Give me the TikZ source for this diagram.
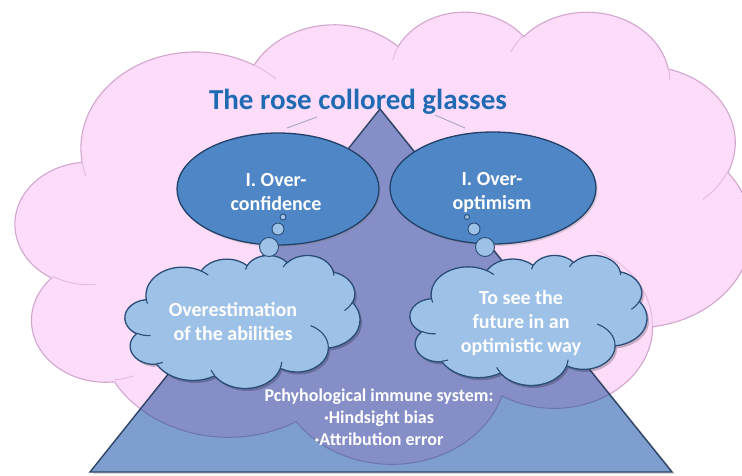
\documentclass[tikz,border=0pt]{standalone}
\usepackage{fontspec}
\setmainfont{Carlito}
\usetikzlibrary{shapes.geometric,shadows}

\definecolor{pinkfill}{HTML}{FCDCF8}
\definecolor{pinkedge}{HTML}{D3A6CF}
\definecolor{pinkwrinkle}{HTML}{E4B8DF}
\definecolor{trifill}{HTML}{7E9ECF}
\definecolor{triover}{HTML}{858EC7}
\definecolor{triedge}{HTML}{2E4466}
\definecolor{overedge}{HTML}{6C75B0}
\definecolor{ovalfill}{HTML}{4E86C6}
\definecolor{ovaledge}{HTML}{22416A}
\definecolor{puff}{HTML}{9EC1E7}
\definecolor{puffedge}{HTML}{2B4E78}
\definecolor{titleblue}{HTML}{1F6BB3}
\definecolor{leader}{HTML}{9EA3BE}

% Cloud outline made of eleven elliptic arcs inside a 100 x 100 box (y down).
% Each arc is given by its radii and by start/sweep angles seen from its centre;
% they are turned into the parametric angles that TikZ's arc expects.
\makeatletter
\def\cloudoutline{(9.028,33.264)}
\def\cloudwrinkles{}
\newcommand\cloudarcspec[4]{%
  \pgfmathsetmacro\cl@ta{atan2((#1)*sin(#3),(#2)*cos(#3))}%
  \pgfmathsetmacro\cl@tb{atan2((#1)*sin((#3)+(#4)),(#2)*cos((#3)+(#4)))}%
  \pgfmathsetmacro\cl@dt{\cl@tb-\cl@ta}%
  \pgfmathsetmacro\cl@dt{\cl@dt<0 ? \cl@dt+360 : \cl@dt}%
}
\newcommand\addcloudarc[4]{%
  \cloudarcspec{#1}{#2}{#3}{#4}%
  \xdef\cloudoutline{\cloudoutline\space arc[start angle=\cl@ta,delta angle=\cl@dt,x radius=#1,y radius=#2]}%
}
\newcommand\addcloudwrinkle[6]{%
  \cloudarcspec{#3}{#4}{#5}{#6}%
  \xdef\cloudwrinkles{\cloudwrinkles\space (#1,#2) arc[start angle=\cl@ta,delta angle=\cl@dt,x radius=#3,y radius=#4]}%
}
\makeatother

\addcloudarc{15.632}{21.273}{-190.4875}{123.7805}
\addcloudarc{12.345}{16.822}{-144.1024}{89.9452}
\addcloudarc{10.104}{13.762}{-145.8079}{99.7230}
\addcloudarc{11.243}{15.266}{-130.9861}{117.2417}
\addcloudarc{12.345}{16.836}{-78.7089}{109.0269}
\addcloudarc{15.683}{21.343}{-46.2673}{130.2690}
\addcloudarc{13.391}{18.211}{0.6250}{114.0333}
\addcloudarc{15.630}{21.331}{22.4516}{115.1726}
\addcloudarc{17.870}{24.405}{66.2426}{75.7110}
\addcloudarc{10.093}{13.699}{-274.9421}{146.7356}
\addcloudarc{10.058}{13.762}{-246.8285}{152.5189}

\addcloudwrinkle{10.863}{60.595}{10.058}{13.762}{86.742}{26.430}
\addcloudwrinkle{16.037}{80.785}{10.093}{13.699}{73.610}{11.447}
\addcloudwrinkle{38.144}{90.486}{15.630}{21.331}{137.624}{14.081}
\addcloudwrinkle{66.729}{80.442}{15.630}{21.331}{6.453}{15.998}
\addcloudwrinkle{79.002}{53.134}{13.391}{18.211}{-70.292}{70.917}
\addcloudwrinkle{96.755}{35.542}{12.345}{16.836}{30.318}{27.752}
\addcloudwrinkle{88.713}{12.560}{11.243}{15.266}{-13.744}{14.859}
\addcloudwrinkle{67.310}{9.148}{11.243}{15.266}{-149.181}{18.195}
\addcloudwrinkle{51.252}{10.926}{10.104}{13.762}{-163.494}{17.686}
\addcloudwrinkle{32.407}{12.019}{15.632}{21.273}{-66.707}{12.319}
\addcloudwrinkle{9.553}{36.549}{15.632}{21.273}{157.654}{11.858}

\begin{document}
\begin{tikzpicture}[x=1pt,y=-1pt,
  cloudbox/.style n args={4}{shift={(#1,#2)},xscale=#3/100,yscale=#4/100},
  oval/.style={ellipse,fill=ovalfill,draw=ovaledge,line width=1.3pt,inner sep=0pt,
    drop shadow={opacity=.3,shadow xshift=1.5pt,shadow yshift=-2pt}},
  bubble/.style={circle,fill=puff,draw=puffedge,line width=.9pt,inner sep=0pt},
  puffcloud/.style={fill=puff,draw=puffedge,line width=1.3pt},
  puffwrinkle/.style={draw=puffedge,line width=1.1pt},
  cloudshadow/.style={fill=black,opacity=.22},
  % multi-line labels are placed by the baseline of their last line
  ovaltext/.style={anchor=base,align=center,text=white,
    font=\bfseries\fontsize{20}{24}\selectfont},
  cloudtext/.style={anchor=base,align=center,text=white,
    font=\bfseries\fontsize{20}{24}\selectfont},
  leaderline/.style={draw=leader,line width=.8pt}]

\useasboundingbox (0,0) rectangle (742,475);
\clip (0,0) rectangle (742,475);
\fill[white] (0,0) rectangle (742,475);

% large pink cloud behind everything
\begin{scope}[cloudbox={15.5}{10.7}{736}{452}]
  \path[fill=pinkfill,draw=pinkedge,line width=1.1pt] \cloudoutline -- cycle;
  \draw[pinkwrinkle,line width=.9pt] \cloudwrinkles;
\end{scope}

% triangle, darker where the pink cloud lies over it
\coordinate (apex) at (380,109);
\coordinate (bl) at (90,472);
\coordinate (br) at (672,472);
\fill[black,opacity=.15] ([shift={(3,2)}]apex) -- ([shift={(3,2)}]br) -- ([shift={(3,2)}]bl) -- cycle;
\fill[trifill] (apex) -- (br) -- (bl) -- cycle;
\begin{scope}
  \clip (apex) -- (br) -- (bl) -- cycle;
  \begin{scope}[cloudbox={15.5}{10.7}{736}{452}]
    \path[fill=triover,draw=overedge,line width=1pt] \cloudoutline -- cycle;
  \end{scope}
\end{scope}
\draw[triedge,line width=1.4pt] (apex) -- (br) -- (bl) -- cycle;

% title and its two short leader strokes
\node[anchor=base,text=titleblue,font=\bfseries\fontsize{29}{35}\selectfont] (title) at (358,109) {The rose collored glasses};
\coordinate (la) at (287,128);
\coordinate (lb) at (317,117);
\coordinate (ra) at (435,115);
\coordinate (rb) at (465,128);
\draw[leaderline] (la) -- (lb);
\draw[leaderline] (ra) -- (rb);

% the two ovals
\node[oval,minimum width=202pt,minimum height=112pt] (ovl) at (278,189) {};
\node[oval,minimum width=206pt,minimum height=112pt] (ovr) at (493,188) {};
\node[ovaltext] (ovltext) at (276,210) {I. Over-\\confidence};
\node[ovaltext] (ovrtext) at (492,209) {I. Over-\\optimism};

% left thought cloud
\begin{scope}[cloudbox={127}{257.5}{235}{133}]
  \path[cloudshadow] \cloudoutline -- cycle;
\end{scope}
\begin{scope}[cloudbox={125}{255}{235}{133}]
  \path[puffcloud] \cloudoutline -- cycle;
  \path[puffwrinkle] \cloudwrinkles;
\end{scope}

% right thought cloud
\begin{scope}[cloudbox={412}{257.5}{237}{130}]
  \path[cloudshadow] \cloudoutline -- cycle;
\end{scope}
\begin{scope}[cloudbox={410}{255}{237}{130}]
  \path[puffcloud] \cloudoutline -- cycle;
  \path[puffwrinkle] \cloudwrinkles;
\end{scope}

% bubbles from the ovals down to the clouds
\node[bubble,minimum size=6pt] (lb1) at (283,217) {};
\node[bubble,minimum size=12pt] (lb2) at (278,229) {};
\node[bubble,minimum size=19pt] (lb3) at (269,247) {};
\node[bubble,minimum size=5pt] (rb1) at (467,217) {};
\node[bubble,minimum size=12pt] (rb2) at (474,229) {};
\node[bubble,minimum size=19pt] (rb3) at (485,247) {};

\node[cloudtext] (lctext) at (233,340) {Overestimation\\of the abilities};
\node[cloudtext] (rctext) at (521,352) {To see the\\future in an\\optimistic way};

% text on the lower lobe
\node[anchor=base,align=center,text=white,font=\bfseries\fontsize{18}{21.7}\selectfont] (immune) at (379,445)
  {Pchyhological immune system:\\·Hindsight bias\\·Attribution error};
\end{tikzpicture}
\end{document}
